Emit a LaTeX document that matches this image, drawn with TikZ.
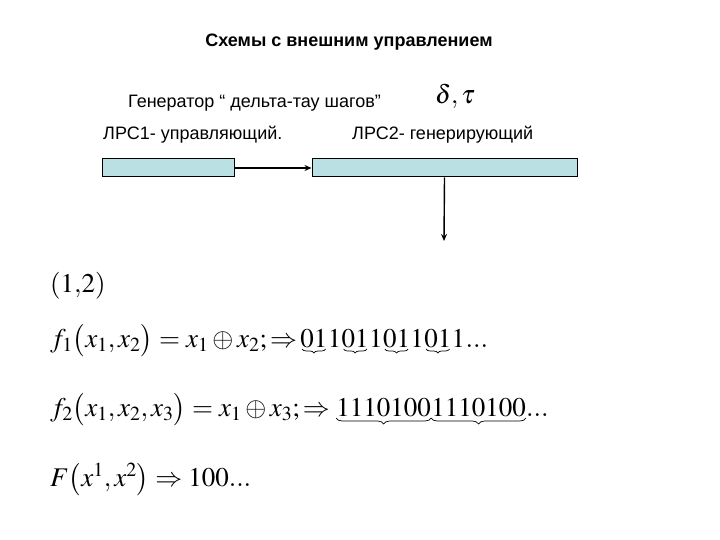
\documentclass[tikz,border=0pt]{standalone}
\usepackage{mathptmx}
\usepackage[no-math]{fontspec}
\setmainfont{Liberation Sans}
\usepackage{tikz}
\usetikzlibrary{arrows.meta, decorations.pathreplacing}

\definecolor{boxblue}{RGB}{187,224,228}

\tikzset{
  lrsbox/.style  = {draw, line width = 1pt, fill = boxblue, inner sep = 0pt,
                    minimum height = 18pt},
  label/.style   = {anchor = base west, inner sep = 0pt, font = \fontsize{18}{21}\selectfont},
  formula/.style = {anchor = base west, inner sep = 0pt, font = \fontsize{27}{32}\selectfont},
  link/.style    = {line width = 1.4pt, -{Stealth[length = 7pt, width = 6pt]}},
  period/.style  = {decorate, decoration = {brace, mirror, amplitude = 4pt}, line width = 0.7pt}
}

\begin{document}
\begin{tikzpicture}[x = 1pt, y = -1pt]
            \useasboundingbox (0,0) rectangle (720,540);

            % title and labels
            \node[anchor = base, inner sep = 0pt, font = \fontsize{18}{21}\selectfont\bfseries]
            (title) at (349,47) {Схемы с внешним управлением};
            \node[label] (gen) at (128,108) {Генератор “ дельта-тау шагов”};
            \node[formula, font = \fontsize{26}{30}\selectfont] (steps) at (435,104) {$\delta,\tau$};
            \node[label] (lrs1) at (103,140) {ЛРС1- управляющий.};
            \node[label] (lrs2) at (352,140) {ЛРС2- генерирующий};

            % registers
            \node[lrsbox, minimum width = 132pt] (box1) at (168,168) {};
            \node[lrsbox, minimum width = 265pt] (box2) at (444.5,168) {};
            \coordinate (out) at (444,241);

            \draw [link] (box1.east) -- (box2.west);
            \draw [link] (box2.south) -- (out);

            % sequences
            \node[formula] (pair) at (50,292) {$(1{,}2)$};

            \node[formula] (f1) at (50,347)
            {$f_1\bigl(x_1, x_2\bigr)= x_1 \oplus x_2;\Rightarrow$};
            \coordinate (s0) at ([xshift = 3pt]f1.base east);
            \foreach \k [evaluate = \k as \p using int(\k-1)] in {1,...,4} {
              \node[formula] (g\k) at (s\p) {$01$};
              \node[formula] (t\k) at (g\k.base east) {$1$};
              \coordinate (s\k) at (t\k.base east);
              \draw [period] ([xshift = 2pt, yshift = -2pt]g\k.base west)
                          -- ([xshift = -2pt, yshift = -2pt]g\k.base east);
            }
            \node[formula] (dots1) at (s4) {$...$};

            \node[formula] (f2) at (50,416)
            {$f_2\bigl(x_1, x_2, x_3\bigr)= x_1 \oplus x_3;\Rightarrow$};
            \node[formula] (p1) at ([xshift = 6pt]f2.base east) {$1110100$};
            \node[formula] (p2) at (p1.base east) {$1110100$};
            \node[formula] (dots2) at (p2.base east) {$...$};
            \draw [period, decoration = {amplitude = 6pt}]
                  ([yshift = -2pt]p1.base west) -- ([yshift = -2pt]p1.base east);
            \draw [period, decoration = {amplitude = 6pt}]
                  ([yshift = -2pt]p2.base west) -- ([yshift = -2pt]p2.base east);

            \node[formula] (F) at (50,486)
            {$F\bigl(x^1, x^2\bigr)\Rightarrow 100...$};
        \end{tikzpicture}
\end{document}
